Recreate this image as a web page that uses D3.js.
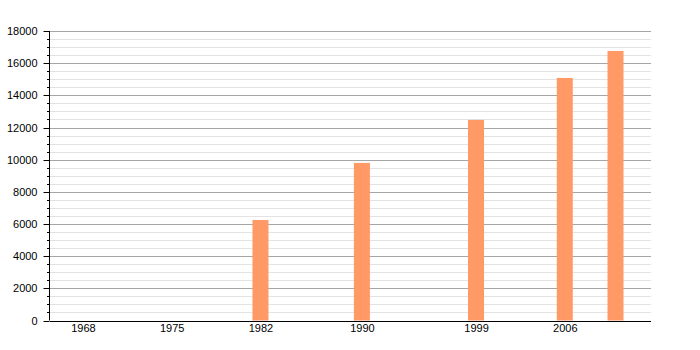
<!DOCTYPE html>
<html>
<head>
<meta charset="utf-8">
<script src="https://cdn.jsdelivr.net/npm/d3@7"></script>
<style>
  body { margin: 0; background: #fff; }
  text { font-family: "Liberation Sans", Arial, sans-serif; font-size: 11px; fill: #000; }
</style>
</head>
<body>
<div id="chart"></div>
<script>
const years = [1968, 1975, 1982, 1990, 1999, 2006, 2010]
const population = [0, 0, 6250, 9800, 12470, 15080, 16760]
const yearLabels = [1968, 1975, 1982, 1990, 1999, 2006]
const yMajorTicks = d3.range(0, 18001, 2000)
const yMinorTicks = d3.range(0, 18001, 500).filter(d => d % 2000 != 0)

const width = 700
const height = 350
const plotLeft = 50, plotRight = 651, plotTop = 31, plotBottom = 320.5

const svg = d3.select('#chart')
  .append('svg')
  .attr('width', width)
  .attr('height', height)

const x = d3.scaleLinear().domain([1965.4, 2012.8]).range([plotLeft, plotRight])
const y = d3.scaleLinear().domain([0, 18000]).range([plotBottom, plotTop])
const py = d => Math.round(y(d)) + .5

// gridlines
svg.selectAll('.minor')
  .data(yMinorTicks)
  .enter()
    .append('line')
    .attr('x1', plotLeft).attr('x2', plotRight)
    .attr('y1', py).attr('y2', py)
    .attr('stroke', '#e3e3e3')
svg.selectAll('.minorTick')
  .data(yMinorTicks)
  .enter()
    .append('line')
    .attr('x1', plotLeft - 3).attr('x2', plotLeft)
    .attr('y1', py).attr('y2', py)
    .attr('stroke', '#000')
svg.selectAll('.major')
  .data(yMajorTicks)
  .enter()
    .append('line')
    .attr('x1', plotLeft).attr('x2', plotRight)
    .attr('y1', py).attr('y2', py)
    .attr('stroke', '#a6a6a6')

// bars
const barWidth = 16
svg.selectAll('.bar')
  .data(years.map((d, i) => ({ year: d, value: population[i] })).filter(d => d.value > 0))
  .enter()
    .append('rect')
    .attr('x', d => x(d.year) - barWidth / 2)
    .attr('y', d => y(d.value))
    .attr('width', barWidth)
    .attr('height', d => y(0) - y(d.value))
    .attr('fill', '#ff9966')

// axes
svg.append('g')
  .attr('transform', 'translate(' + (plotLeft - .5) + ',0)')
  .call(d3.axisLeft(y).tickValues(yMajorTicks).tickSize(6).tickPadding(6).tickFormat(d3.format('d')))
  .call(g => g.selectAll('text').style('font-size', '11px').style('font-family', '"Liberation Sans", Arial, sans-serif'))
  .call(g => g.select('.domain').attr('d', 'M0,' + plotTop + 'V' + plotBottom))
  .call(g => g.selectAll('.tick').attr('transform', d => 'translate(0,' + py(d) + ')'))
  .call(g => g.selectAll('.tick line').attr('stroke', '#000'))

svg.append('g')
  .attr('transform', 'translate(0,' + Math.round(plotBottom) + ')')
  .call(d3.axisBottom(x).tickValues(yearLabels).tickSize(0).tickPadding(3).tickFormat(d3.format('d')))
  .call(g => g.selectAll('text').style('font-size', '11px').style('font-family', '"Liberation Sans", Arial, sans-serif'))
  .call(g => g.select('.domain').attr('d', 'M' + plotLeft + ',0.5H' + plotRight))
</script>
</body>
</html>
